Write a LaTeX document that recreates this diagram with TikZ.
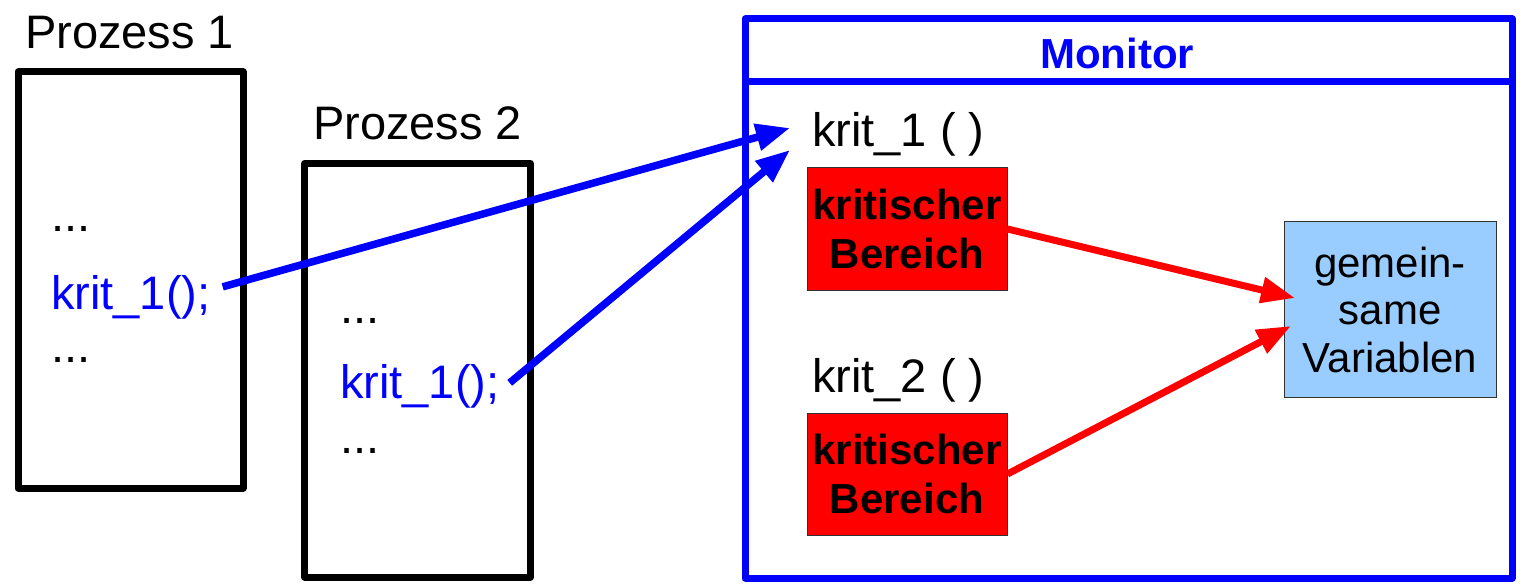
\documentclass[tikz,border=0pt]{standalone}
\usepackage{fontspec}
\setmainfont{Liberation Sans}
\usetikzlibrary{arrows.meta,calc}
\definecolor{mblue}{RGB}{0,0,255}
\definecolor{mred}{RGB}{255,0,0}
\definecolor{lblue}{RGB}{153,204,255}
\definecolor{edge}{RGB}{50,50,50}
\begin{document}
\begin{tikzpicture}[x=1pt,y=-1pt,
  lbl/.style={inner sep=0pt, font=\fontsize{47}{52}\selectfont, anchor=base west},
  callt/.style={lbl, text=mblue},
  procbox/.style={draw=black, line width=7pt, line join=round, inner sep=0pt},
  monbox/.style={draw=mblue, line width=7pt, line join=round, inner sep=0pt},
  critbox/.style={draw=edge, line width=1pt, fill=mred, minimum width=200pt, minimum height=122pt,
    inner sep=0pt, align=center, font=\fontsize{42}{49}\selectfont\bfseries},
  varbox/.style={draw=edge, line width=1pt, fill=lblue, minimum width=212pt, minimum height=175pt,
    inner sep=0pt, align=center, font=\fontsize{42}{47.5}\selectfont},
  bluearr/.style={draw=mblue, line width=7.5pt, -{Triangle[length=34pt,width=26pt]}},
  redarr/.style={draw=mred, line width=7pt, -{Triangle[length=34pt,width=25pt]}}
]
\useasboundingbox (0,0) rectangle (1526,588);

% Process 1
\node[lbl] (p1lbl) at (25,49) {Prozess 1};
\node[procbox, minimum width=225pt, minimum height=416pt] (p1) at (130.5,280) {};
\node[lbl] (p1d1) at (51,232) {...};
\node[callt] (p1call) at (51,309) {krit\_1();};
\node[lbl] (p1d2) at (51,362) {...};

% Process 2
\node[lbl] (p2lbl) at (313,140) {Prozess 2};
\node[procbox, minimum width=226pt, minimum height=413.5pt] (p2) at (417.5,370.25) {};
\node[lbl] (p2d1) at (340,323) {...};
\node[callt] (p2call) at (340,398) {krit\_1();};
\node[lbl] (p2d2) at (340,453) {...};

% Monitor
\node[monbox, minimum width=767pt, minimum height=559pt] (mon) at (1128.5,298.5) {};
\draw[draw=mblue, line width=7pt] (mon.west |- 0,82) -- (mon.east |- 0,82);
\node[inner sep=0pt, anchor=base, text=mblue, font=\fontsize{42}{48}\selectfont\bfseries] (montitle) at (1117,69) {Monitor};

\node[lbl] (m1) at (812,147) {krit\_1 ( )};
\node[critbox] (r1) at (907,229) {kritischer\\Bereich};
\node[lbl] (m2) at (812,392) {krit\_2 ( )};
\node[critbox] (r2) at (907,474) {kritischer\\Bereich};

\node[varbox] (gv) at (1390,309.5) {gemein-\\same\\Variablen};

% connectors
\coordinate (t1) at (790,128);
\coordinate (t2) at (790,150);
\coordinate (g1) at (1295,298);
\coordinate (g2) at (1291,326);
\draw[bluearr] ([shift={(12,-10)}]p1call.east) -- (t1);
\draw[bluearr] ([shift={(10,-3)}]p2call.east) -- (t2);
\draw[redarr] (r1.east) -- (g1);
\draw[redarr] (r2.east) -- (g2);
\end{tikzpicture}
\end{document}
